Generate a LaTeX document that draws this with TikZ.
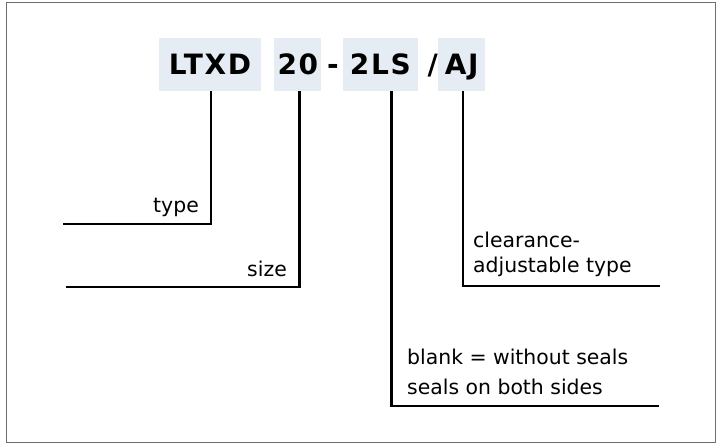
\documentclass[tikz,border=0pt]{standalone}
\usepackage{fontspec}
\setmainfont{DejaVu Sans}
\usetikzlibrary{positioning}
\definecolor{codebg}{RGB}{229,236,244}
\definecolor{framegray}{RGB}{110,110,110}

\begin{document}
\begin{tikzpicture}[x=1pt,y=-1pt,
  code node/.style={fill=codebg,minimum height=53pt,inner sep=0pt,text height=20pt,text depth=0pt,
    font=\fontsize{28}{30}\selectfont\bfseries\addfontfeature{LetterSpace=6}},
  sep node/.style={inner sep=0pt,font=\fontsize{28}{30}\selectfont\bfseries},
  lead/.style={line width=2.5pt},
  label node/.style={inner sep=0pt,font=\fontsize{20.4}{25}\selectfont}]

\useasboundingbox (0,0) rectangle (721,444);
\draw[framegray,line width=1pt] (6.5,2.5) rectangle (715.5,442.5);

\node[code node,minimum width=102pt] (ltxd) at (210,64.5) {LTXD};
\node[code node,minimum width=47pt,right=13pt of ltxd] (size) {20};
\node[code node,minimum width=75pt,right=21pt of size] (seal) {2LS};
\node[code node,minimum width=47pt,right=20pt of seal] (adj) {AJ};
\node[sep node,anchor=base] (dash) at (333,75) {-};
\node[sep node,anchor=base east] (slash) at (438,75) {/};

\coordinate (typeend) at (63,224);
\coordinate (sizeend) at (66,287);
\coordinate (adjend) at (660,286);
\coordinate (sealend) at (659,406);

\draw[lead] ([xshift=1pt]ltxd.south) |- (typeend);
\draw[lead] ([xshift=1.5pt]size.south) |- (sizeend);
\draw[lead] ([xshift=11pt]seal.south) |- (sealend);
\draw[lead] ([xshift=1.5pt]adj.south) |- (adjend);

\node[label node,anchor=base east] (typelbl) at (199,212) {type};
\node[label node,anchor=base east] (sizelbl) at (287,276) {size};
\node[label node,anchor=north west,align=left] (adjlbl) at (473,231.5) {clearance-\\adjustable type};
\node[label node,anchor=north west,align=left,font=\fontsize{20.4}{30}\selectfont] (seallbl) at (407,348.5) {blank = without seals\\seals on both sides};
\end{tikzpicture}
\end{document}
